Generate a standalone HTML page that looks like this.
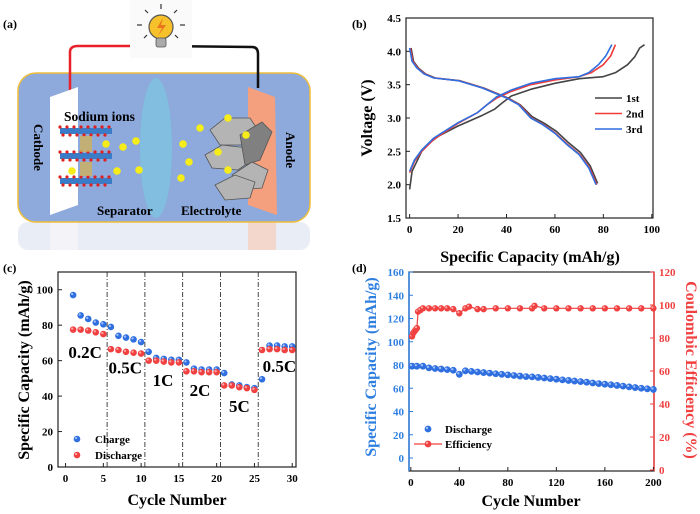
<!DOCTYPE html>
<html><head><meta charset="utf-8"><style>
html,body{margin:0;padding:0;background:#fff}
svg{display:block}
svg text{font-family:"Liberation Serif","DejaVu Serif",serif;font-weight:bold}
</style></head><body>
<svg id="fig" width="700" height="514" viewBox="0 0 700 514" xmlns="http://www.w3.org/2000/svg" font-family="Liberation Serif, serif" font-weight="bold">
<!-- Panel (a) -->
<g>
<text x="3" y="28" font-size="12">(a)</text>
<rect x="18" y="222" width="292" height="28" rx="10" fill="#e3e8f4" opacity="0.8"/>
<rect x="50" y="222" width="28" height="28" fill="#f4f4f8"/>
<rect x="248" y="222" width="28" height="28" fill="#f3d6cc"/>
<rect x="18" y="73" width="292" height="149" rx="18" fill="#8ea9db" stroke="#f0bd3a" stroke-width="1.5"/>
<path d="M70 90 L70 52 Q70 46 78 46 L160 46" fill="none" stroke="#e8202a" stroke-width="2.5"/>
<path d="M160 46 L252 47 Q258 47 258 54 L258 88" fill="none" stroke="#111" stroke-width="2.5"/>
<g>
<rect x="130" y="0" width="62" height="58" fill="#fafafa"/>
<circle cx="161" cy="27" r="12" fill="#f6c12a" stroke="#555" stroke-width="1.2"/>
<rect x="156" y="38" width="10" height="9" rx="2" fill="#aaa" stroke="#555" stroke-width="0.8"/>
<path d="M163 18 L157 28 L162 28 L158 36 L166 25 L161 25 Z" fill="#e8761e"/>
<g stroke="#333" stroke-width="1.2">
<line x1="161" y1="4" x2="161" y2="9"/><line x1="145" y1="10" x2="148" y2="13"/><line x1="177" y1="10" x2="174" y2="13"/>
<line x1="137" y1="25" x2="142" y2="25"/><line x1="180" y1="25" x2="185" y2="25"/><line x1="144" y1="38" x2="147" y2="35"/><line x1="178" y1="38" x2="175" y2="35"/>
</g></g>
<polygon points="50,97 78,87 78,205 50,215" fill="#fff"/>
<polygon points="248,87 275,97 277,215 248,205" fill="#f4a07e"/>
<ellipse cx="156" cy="148" rx="16" ry="70" fill="#7cc6e0" opacity="0.75"/>
<g>
<g id="layer"><rect x="60" y="128" width="52" height="6" fill="#3a7cc8"/>
<g fill="#e02020"><circle cx="60" cy="127" r="1.6"/><circle cx="67" cy="127" r="1.6"/><circle cx="74" cy="127" r="1.6"/><circle cx="81" cy="127" r="1.6"/><circle cx="88" cy="127" r="1.6"/><circle cx="95" cy="127" r="1.6"/><circle cx="102" cy="127" r="1.6"/><circle cx="109" cy="127" r="1.6"/>
<circle cx="63" cy="135" r="1.6"/><circle cx="70" cy="135" r="1.6"/><circle cx="77" cy="135" r="1.6"/><circle cx="84" cy="135" r="1.6"/><circle cx="91" cy="135" r="1.6"/><circle cx="98" cy="135" r="1.6"/><circle cx="105" cy="135" r="1.6"/></g></g>
<use href="#layer" y="25"/><use href="#layer" y="50"/>
<rect x="80" y="136" width="12" height="16" fill="#d9b24a" opacity="0.7"/><rect x="80" y="162" width="12" height="14" fill="#d9b24a" opacity="0.7"/>
</g>
<text x="64" y="121" font-size="13.5">Sodium ions</text>
<text transform="translate(34,124) rotate(90)" font-size="13">Cathode</text>
<text transform="translate(286,132) rotate(90)" font-size="13">Anode</text>
<text x="97" y="215" font-size="13">Separator</text>
<text x="181" y="215" font-size="13">Electrolyte</text>
<g fill="#b4b4b4" stroke="#555" stroke-width="0.8">
<polygon points="210,130 225,118 250,118 258,130 245,145 220,145"/>
<polygon points="205,155 222,145 248,148 252,160 238,170 212,168"/>
<polygon points="240,135 262,122 272,132 260,160 245,165" fill="#808080"/>
<polygon points="232,175 252,162 268,170 262,188 240,190"/>
<polygon points="215,185 235,175 255,182 250,198 225,200"/>
</g>
<g fill="#f5ec1a">
<circle cx="106" cy="144" r="3.8"/><circle cx="123" cy="147" r="3.8"/><circle cx="136" cy="141" r="3.8"/><circle cx="72" cy="171" r="3.8"/><circle cx="117" cy="171" r="3.8"/><circle cx="139" cy="170" r="3.8"/><circle cx="183" cy="144" r="3.8"/><circle cx="189" cy="162" r="3.8"/><circle cx="181" cy="178" r="3.8"/><circle cx="200" cy="128" r="3.8"/><circle cx="228" cy="118" r="3.8"/><circle cx="246" cy="135" r="3.8"/><circle cx="218" cy="152" r="3.8"/><circle cx="228" cy="170" r="3.8"/>
</g>
</g>
<g id="pb"></g><g id="pc"></g><g id="pd"></g>
</svg>
<script>
// ---------- Panel b data ----------
const b1CapC=[0,1,3,5,8,12,20,30,35,38,42,50,60,70,80,85,90,93,95,97];
const b1VC=[1.93,2.2,2.35,2.5,2.62,2.73,2.88,3.04,3.13,3.22,3.33,3.43,3.52,3.59,3.62,3.68,3.8,3.92,4.05,4.1];
const b2CapC=[0,2,5,10,20,28,32,36,42,50,60,70,75,80,83,85];
const b2VC=[2.18,2.35,2.5,2.68,2.92,3.08,3.2,3.3,3.4,3.5,3.57,3.62,3.68,3.8,3.93,4.1];
const b3CapC=[0,2,5,10,20,28,32,36,42,50,60,70,74,78,81,83.5];
const b3VC=[2.2,2.37,2.52,2.7,2.93,3.08,3.2,3.32,3.42,3.52,3.59,3.62,3.68,3.8,3.93,4.1];
const bCapD=[0,1,3,6,10,20,30,40,45,50,55,60,65,70,74,77];
const bVD=[4.05,3.85,3.75,3.66,3.6,3.56,3.45,3.3,3.2,3.0,2.9,2.77,2.6,2.45,2.25,2.0];
const b1VD=[4.05,3.85,3.75,3.66,3.6,3.56,3.45,3.3,3.2,3.02,2.92,2.8,2.63,2.48,2.28,2.02];
const bXTicks=[0,20,40,60,80,100];
const bYTicks=[1.5,2.0,2.5,3.0,3.5,4.0,4.5];
const bLegend=["1st","2nd","3rd"];
// ---------- Panel c data ----------
const cCycles=[1,2,3,4,5,6,7,8,9,10,11,12,13,14,15,16,17,18,19,20,21,22,23,24,25,26,27,28,29,30];
const cCharge=[97,85.5,83.5,81.5,80.5,79,74,73,72,70.5,65,61.5,61,60.5,60.5,59,55.5,55,55,55,53,46.5,46,45,44.5,49.5,68.5,68.5,68,68];
const cDischarge=[77.5,77.5,77,76,75,66.5,66,65,64.5,64,60,60,59.5,59,59,54,54,53.5,53.5,53.5,46,46,45,44.5,43.5,66,66.5,66.5,66,66];
const cRates=["0.2C","0.5C","1C","2C","5C","0.5C"];
const cRateX=[2.6,7.9,12.9,17.8,23.0,28.3];
const cRateY=[65,56,49,43.5,34.5,57];
const cDividers=[5.5,10.5,15.5,20.5,25.5];
const cXTicks=[0,5,10,15,20,25,30];
const cYTicks=[0,20,40,60,80,100];
// ---------- Panel d data ----------
const dCycles=[1,5,10,15,20,25,30,35,40,45,50,55,60,65,70,75,80,85,90,95,100,105,110,115,120,125,130,135,140,145,150,155,160,165,170,175,180,185,190,195,200];
const dDischarge=[79,79,79,77.5,77,76.5,76,75.5,72,75,74.5,74,73.5,73,72.5,72,71.5,71,70.5,70,69.8,69.3,68.8,68.3,67.8,67.2,66.7,66.2,65.7,65.2,64.5,64,63.5,63,62.4,61.8,61.2,60.6,60,59.5,59];
const dEffCycles=[1,2,3,4,5,6,8,10,15,20,25,30,35,40,45,48,55,60,70,80,90,100,102,110,120,130,140,150,160,170,180,190,200];
const dEff=[81,83,84,85,86,96,97,98,98,98,98,98,97.5,95,98,99,97.5,97.5,98,98,98,98,99.5,98,98,98,98,98,98,98,98,98,98];
const dXTicks=[0,40,80,120,160,200];
const dYLTicks=[0,20,40,60,80,100,120,140,160];
const dYRTicks=[0,20,40,60,80,100,120];

const NS="http://www.w3.org/2000/svg";
function mk(parent,tag,attrs,text){const e=document.createElementNS(NS,tag);for(const k in attrs)e.setAttribute(k,attrs[k]);if(text!==undefined)e.textContent=text;parent.appendChild(e);return e;}
function lin(d0,d1,r0,r1){return v=>r0+(v-d0)*(r1-r0)/(d1-d0);}
function frame(g,L,T,R,B){const f=mk(g,'rect',{x:L,y:T,width:R-L,height:B-T,fill:'none',stroke:'#222','stroke-width':1.2});

}
function poly(g,xs,ys,X,Y,col,name){const p=mk(g,'polyline',{points:xs.map((x,i)=>X(x)+','+Y(ys[i])).join(' '),fill:'none',stroke:col,'stroke-width':1.6,'stroke-linejoin':'round'});

}
function ball(g,cx,cy,r,col,light){mk(g,'circle',{cx,cy,r,fill:col});mk(g,'circle',{cx:cx-r*0.3,cy:cy-r*0.3,r:r*0.35,fill:light,opacity:0.8});}

// ---- Panel b ----
(function(){const g=document.getElementById('pb');
const L=406,R=653,T=18,B=218;const X=lin(-1.5,100.5,L,R),Y=lin(1.5,4.5,B,T);
mk(g,'text',{x:352,y:28,'font-size':12},'(b)');
frame(g,L,T,R,B);
bXTicks.forEach(v=>{mk(g,'line',{x1:X(v),x2:X(v),y1:B,y2:B-4,stroke:'#222'});const t=mk(g,'text',{x:X(v),y:B+15,'font-size':11,'text-anchor':'middle'},v);

});
bYTicks.forEach(v=>{mk(g,'line',{x1:L,x2:L+4,y1:Y(v),y2:Y(v),stroke:'#222'});const t=mk(g,'text',{x:L-5,y:Y(v)+4,'font-size':11,'text-anchor':'end'},v.toFixed(1));

});
const xl=mk(g,'text',{x:530,y:262,'font-size':16,'text-anchor':'middle'},'Specific Capacity (mAh/g)');


const yl=mk(g,'text',{transform:'translate(372,118) rotate(-90)','font-size':16,'text-anchor':'middle'},'Voltage (V)');


poly(g,b1CapC,b1VC,X,Y,'#444','series-1st-charge');
poly(g,bCapD.map(v=>v+0.6),b1VD,X,Y,'#444','series-1st-discharge');
poly(g,b2CapC,b2VC,X,Y,'#f03a3a','series-2nd-charge');
poly(g,bCapD.map(v=>v+0.3),bVD,X,Y,'#f03a3a','series-2nd-discharge');
poly(g,b3CapC,b3VC,X,Y,'#2f6fe0','series-3rd-charge');
poly(g,bCapD,bVD,X,Y,'#2f6fe0','series-3rd-discharge');
const cols=['#444','#f03a3a','#2f6fe0'];
bLegend.forEach((s,i)=>{const yy=98+i*15.5;
const e=mk(g,'g',{});


mk(e,'line',{x1:595,x2:622,y1:yy,y2:yy,stroke:cols[i],'stroke-width':1.6});
mk(e,'text',{x:626,y:yy+4,'font-size':11},s);});
})();

// ---- Panel c ----
(function(){const g=document.getElementById('pc');
const L=58,R=296,T=272,B=467;const X=lin(-1,30.5,L,R),Y=lin(0,110,B,T);
mk(g,'text',{x:3,y:272,'font-size':12},'(c)');
frame(g,L,T,R,B);
cXTicks.forEach(v=>{mk(g,'line',{x1:X(v),x2:X(v),y1:B,y2:B-4,stroke:'#222'});const t=mk(g,'text',{x:X(v),y:B+15,'font-size':11,'text-anchor':'middle'},v);

});
cYTicks.forEach(v=>{mk(g,'line',{x1:L,x2:L+4,y1:Y(v),y2:Y(v),stroke:'#222'});const t=mk(g,'text',{x:L-5,y:Y(v)+4,'font-size':11,'text-anchor':'end'},v);

});
cDividers.forEach(v=>{const l=mk(g,'line',{x1:X(v),x2:X(v),y1:T,y2:B,stroke:'#333','stroke-width':0.9,'stroke-dasharray':'5,2,1,2'});

});
cCycles.forEach((c,i)=>{const m=mk(g,'g',{});


ball(m,X(c),Y(cCharge[i]),3.3,'#2f6fe0','#bcd3ff');
const n=mk(g,'g',{});


ball(n,X(c),Y(cDischarge[i]),3.3,'#f04040','#ffc0c0');});
cRates.forEach((s,i)=>{const t=mk(g,'text',{x:X(cRateX[i]),y:Y(cRateY[i])+6,'font-size':17,'text-anchor':'middle'},s);

});
const xl=mk(g,'text',{x:177,y:505,'font-size':16,'text-anchor':'middle'},'Cycle Number');


const yl=mk(g,'text',{transform:'translate(29,370) rotate(-90)','font-size':16,'text-anchor':'middle'},'Specific Capacity (mAh/g)');


const l1=mk(g,'g',{});


ball(l1,77,439,3.3,'#2f6fe0','#bcd3ff');mk(l1,'text',{x:95,y:443,'font-size':11},'Charge');
const l2=mk(g,'g',{});


ball(l2,77,455,3.3,'#f04040','#ffc0c0');mk(l2,'text',{x:95,y:459,'font-size':11},'Discharge');
})();

// ---- Panel d ----
(function(){const g=document.getElementById('pd');
const L=409,R=654,T=272,B=471;const X=lin(-1.5,200.5,L,R),YL=lin(0,160,458,T),YR=lin(0,120,470,T);
mk(g,'text',{x:352,y:272,'font-size':12},'(d)');
frame(g,L,T,R,B);
mk(g,'line',{x1:L,x2:L,y1:T,y2:B,stroke:'#2f7fe0','stroke-width':1.5});
mk(g,'line',{x1:R,x2:R,y1:T,y2:B,stroke:'#f04040','stroke-width':1.5});
dXTicks.forEach(v=>{mk(g,'line',{x1:X(v),x2:X(v),y1:B,y2:B-4,stroke:'#222'});const t=mk(g,'text',{x:X(v),y:B+15,'font-size':11,'text-anchor':'middle'},v);

});
dYLTicks.forEach(v=>{mk(g,'line',{x1:L,x2:L+4,y1:YL(v),y2:YL(v),stroke:'#2f7fe0'});const t=mk(g,'text',{x:L-5,y:YL(v)+4,'font-size':11,'text-anchor':'end',fill:'#2f7fe0'},v);

});
dYRTicks.forEach(v=>{mk(g,'line',{x1:R,x2:R-4,y1:YR(v),y2:YR(v),stroke:'#f04040'});const t=mk(g,'text',{x:R+5,y:YR(v)+4,'font-size':11,fill:'#f04040'},v);

});
const el=mk(g,'polyline',{points:dEffCycles.map((c,i)=>X(c)+','+YR(dEff[i])).join(' '),fill:'none',stroke:'#f04040','stroke-width':1.2});


dEffCycles.forEach((c,i)=>{const m=mk(g,'g',{});


ball(m,X(c),YR(dEff[i]),3.2,'#f04040','#ffc0c0');});
dCycles.forEach((c,i)=>{const m=mk(g,'g',{});


ball(m,X(c),YL(dDischarge[i]),3.4,'#2f6fe0','#bcd3ff');});
const xl=mk(g,'text',{x:531,y:506,'font-size':16,'text-anchor':'middle'},'Cycle Number');


const yl=mk(g,'text',{transform:'translate(376,367) rotate(-90)','font-size':16,'text-anchor':'middle',fill:'#2f7fe0'},'Specific Capacity (mAh/g)');


const yr=mk(g,'text',{transform:'translate(686,370) rotate(90)','font-size':16,'text-anchor':'middle',fill:'#f04040'},'Coulombic Efficiency (%)');


const l1=mk(g,'g',{});


ball(l1,428,429,3.4,'#2f6fe0','#bcd3ff');mk(l1,'text',{x:445,y:433,'font-size':11},'Discharge');
const l2=mk(g,'g',{});


mk(l2,'line',{x1:414,x2:442,y1:444,y2:444,stroke:'#f04040','stroke-width':1.2});
ball(l2,428,444,3.4,'#f04040','#ffc0c0');mk(l2,'text',{x:445,y:448,'font-size':11},'Efficiency');
})();
</script>
</body></html>
